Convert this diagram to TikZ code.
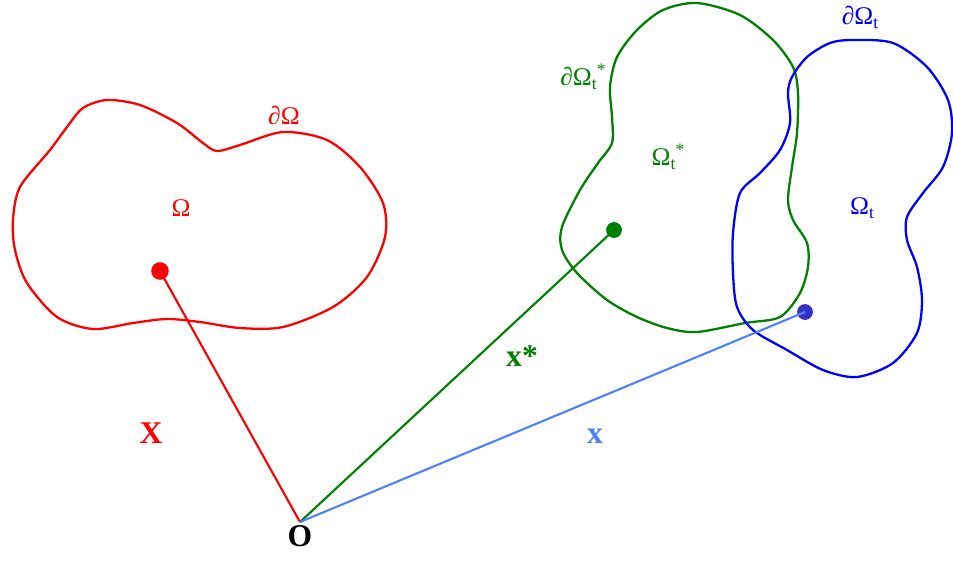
\documentclass[tikz,border=0pt]{standalone}
\usepackage{fontspec}
\setmainfont{Liberation Serif}
\usepackage{tikz}
\usetikzlibrary{
    positioning,
    calc
}
\usepackage{xcolor}
\definecolor{refred}{rgb}{1.0, 0.0, 0.0}
\definecolor{stargreen}{rgb}{0.0, 0.5, 0.0}
\definecolor{curblue}{rgb}{0.0, 0.0, 1.0}
\definecolor{dotblue}{rgb}{0.2, 0.2, 0.75}
\definecolor{vecblue}{rgb}{0.3, 0.5, 1.0}
\tikzstyle{boundary} = [
    line width=1.3pt,
    line join=round
]
\tikzstyle{point} = [
    circle,
    inner sep=0pt,
    minimum size=9pt
]
\tikzstyle{vector} = [
    line width=1.2pt
]
\tikzstyle{regionlabel} = [
    inner sep=1pt,
    font=\fontsize{14.5}{16}\selectfont
]
\tikzstyle{veclabel} = [
    inner sep=1pt,
    font=\fontsize{18}{20}\selectfont\bfseries
]
\newcommand{\tsub}{\raisebox{-0.35ex}{\fontsize{10}{11}\selectfont t}}
\newcommand{\tstar}{\raisebox{0.9ex}{\fontsize{10}{11}\selectfont *}}

\begin{document}
\begin{tikzpicture}[x=0.02cm, y=-0.02cm]
        \useasboundingbox (0,0) rectangle (953,561);

        % Reference configuration
        \draw[boundary, refred] plot[smooth cycle] coordinates {
            (13,220) (20,187) (50,150) (67,127) (83,108) (107,100)
            (140,105) (177,123) (203,143) (217,151) (240,145) (283,132)
            (327,140) (360,167) (383,203) (385,237) (367,277) (333,307)
            (283,327) (240,328) (200,322) (167,319) (133,323) (93,329)
            (57,317) (27,283) (15,250)};
        \node[regionlabel, text=refred] (omega) at (181,208) {Ω};
        \node[regionlabel, text=refred] (domega) at (284,115) {∂Ω};

        % Intermediate configuration
        \draw[boundary, stargreen] plot[smooth cycle] coordinates {
            (697,3) (740,15) (773,40) (793,67) (798,93) (797,133) (792,167)
            (788,200) (793,220) (807,243) (808,267) (800,293) (780,317)
            (745,323) (697,332) (667,328) (637,317) (607,300)
            (577,273) (562,250) (562,227) (580,190) (598,163) (612,143)
            (612,117) (610,87) (617,57) (637,30) (663,10)};
        \node[regionlabel, text=stargreen] (omegastar) at (668,157) {Ω\tsub\tstar};
        \node[regionlabel, text=stargreen] (domegastar) at (583,77) {∂Ω\tsub\tstar};

        % Current configuration
        \draw[boundary, curblue] plot[smooth cycle] coordinates {
            (853,40) (893,43) (927,67) (948,100) (952,133) (943,167)
            (923,193) (907,217) (907,240) (917,267) (922,300) (917,333)
            (893,363) (857,377) (823,370) (787,350) (753,330) (737,307)
            (733,273) (733,233) (740,193) (760,173) (780,150) (790,123)
            (788,93) (792,77) (807,57) (830,43)};
        \node[regionlabel, text=curblue] (omegat) at (862,208) {Ω\tsub};
        \node[regionlabel, text=curblue] (domegat) at (860,17) {∂Ω\tsub};

        % Position vectors
        \coordinate (origin) at (300,522);
        \node[veclabel, below=1pt of origin] (olabel) {O};
        \node[point, fill=refred, minimum size=10pt] (pref) at (160,271) {};
        \node[point, fill=stargreen] (pstar) at (614,230) {};
        \node[point, fill=dotblue] (pcur) at (805,312) {};

        \draw[vector, refred] (origin) -- (pref.center);
        \draw[vector, stargreen] (origin) -- (pstar.center);
        \draw[vector, vecblue] (origin) -- (pcur.center);

        \node[veclabel, text=refred] (xref) at (151,433) {X};
        \node[veclabel, text=stargreen] (xstar) at (522,356) {x*};
        \node[veclabel, text=vecblue] (xcur) at (595,436) {x};
    \end{tikzpicture}
\end{document}
